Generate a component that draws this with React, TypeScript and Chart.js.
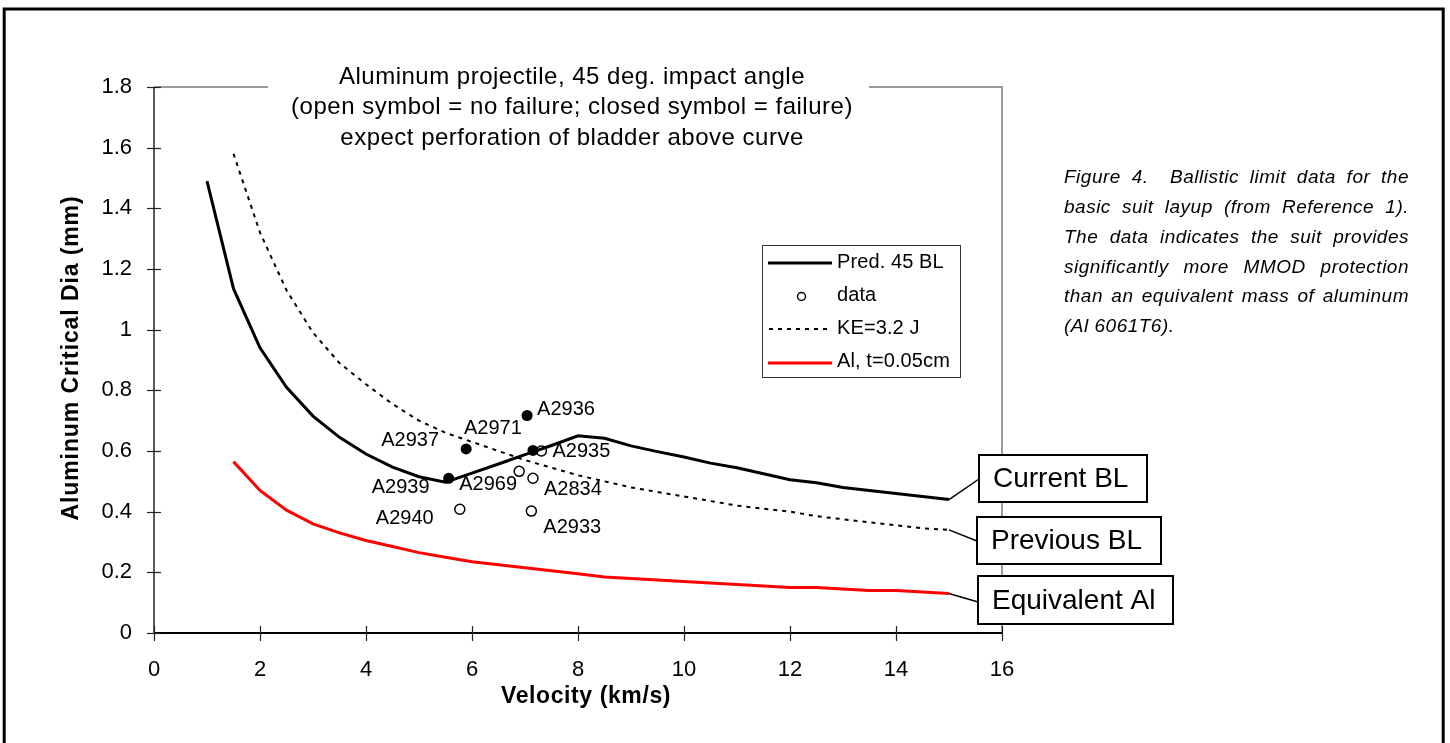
import React, { useEffect, useRef } from "react";
import { Chart, registerables } from "chart.js";

Chart.register(...registerables);

const FONT = '"Liberation Sans", Arial, Helvetica, sans-serif';

// ---------- data ----------
const blVelocity = [1, 1.5, 2, 2.5, 3, 3.5, 4, 4.5, 5, 5.5, 6, 6.5, 7, 7.5, 8, 8.5, 9, 9.5, 10, 10.5, 11, 11.5, 12, 12.5, 13, 13.5, 14, 14.5, 15];
const currentBL = [1.49, 1.135, 0.94, 0.81, 0.715, 0.645, 0.59, 0.547, 0.515, 0.497, 0.527, 0.557, 0.588, 0.618, 0.65, 0.642, 0.617, 0.598, 0.58, 0.56, 0.545, 0.525, 0.505, 0.495, 0.48, 0.47, 0.46, 0.45, 0.44];

const keVelocity = [1.5, 2, 2.5, 3, 3.5, 4, 4.5, 5, 5.5, 6, 6.5, 7, 7.5, 8, 8.5, 9, 9.5, 10, 10.5, 11, 11.5, 12, 12.5, 13, 13.5, 14, 14.5, 15];
const previousBL = [1.58, 1.32, 1.13, 0.99, 0.89, 0.82, 0.755, 0.70, 0.66, 0.63, 0.60, 0.57, 0.545, 0.52, 0.50, 0.48, 0.465, 0.45, 0.435, 0.42, 0.41, 0.40, 0.385, 0.375, 0.365, 0.355, 0.345, 0.34];

const alVelocity = [1.5, 2, 2.5, 3, 3.5, 4, 4.5, 5, 5.5, 6, 6.5, 7, 7.5, 8, 8.5, 9, 9.5, 10, 10.5, 11, 11.5, 12, 12.5, 13, 13.5, 14, 14.5, 15];
const equivalentAl = [0.565, 0.47, 0.405, 0.36, 0.33, 0.305, 0.285, 0.265, 0.25, 0.235, 0.225, 0.215, 0.205, 0.195, 0.185, 0.18, 0.175, 0.17, 0.165, 0.16, 0.155, 0.15, 0.15, 0.145, 0.14, 0.14, 0.135, 0.13];

const failVelocity = [5.56, 5.89, 7.04, 7.15];
const failDia = [0.51, 0.607, 0.717, 0.602];
const failLabels = ["A2939", "A2937", "A2936", "A2971"];

const passVelocity = [7.31, 6.89, 7.15, 5.77, 7.12];
const passDia = [0.6, 0.533, 0.51, 0.408, 0.402];
const passLabels = ["A2935", "A2969", "A2834", "A2940", "A2933"];

const seriesNames = ["Pred. 45 BL", "data", "KE=3.2 J", "Al, t=0.05cm"];
const titleLines = [
  "Aluminum projectile, 45 deg. impact angle",
  "(open symbol = no failure; closed symbol = failure)",
  "expect perforation of bladder above curve",
];
const xAxisTitle = "Velocity (km/s)";
const yAxisTitle = "Aluminum Critical Dia (mm)";
const calloutLabels = ["Current BL", "Previous BL", "Equivalent Al"];
const captionLines = [
  "Figure 4.  Ballistic limit data for the",
  "basic suit layup (from Reference 1).",
  "The data indicates the suit provides",
  "significantly more MMOD protection",
  "than an equivalent mass of aluminum",
  "(Al 6061T6).",
];

// ---------- layout constants (pixels) ----------
const failLabelOffsets = [[-77, 9], [-85, -8], [10, -6], [-69, -22]];
const passLabelOffsets = [[11, 0], [-60, 13], [11, 11], [-84, 9], [12, 16]];
const calloutBoxes = [
  [979, 455, 168, 47],
  [977, 517, 184, 47],
  [978, 576, 195, 48],
];

const toXY = (xs: number[], ys: number[]) => xs.map((x, i) => ({ x, y: ys[i] }));

const overlayPlugin = {
  id: "overlay",
  beforeDraw(chart: any) {
    const ctx = chart.ctx;
    ctx.save();
    ctx.fillStyle = "#fff";
    ctx.fillRect(0, 0, chart.width, chart.height);
    ctx.strokeStyle = "#000";
    ctx.lineWidth = 3;
    ctx.strokeRect(4.2, 9, 1439, 800);
    ctx.restore();
  },
  beforeDatasetsDraw(chart: any) {
    const ctx = chart.ctx;
    const { left, right, top, bottom } = chart.chartArea;
    const xs = chart.scales.x;
    const ys = chart.scales.y;
    ctx.save();
    ctx.strokeStyle = "#999";
    ctx.lineWidth = 2;
    ctx.beginPath();
    ctx.moveTo(left, top);
    ctx.lineTo(right, top);
    ctx.lineTo(right, bottom);
    ctx.stroke();
    ctx.strokeStyle = "#222";
    ctx.lineWidth = 1.5;
    ctx.beginPath();
    ctx.moveTo(left, top);
    ctx.lineTo(left, bottom);
    ctx.stroke();
    ctx.strokeStyle = "#000";
    ctx.lineWidth = 2;
    ctx.beginPath();
    ctx.moveTo(left, bottom);
    ctx.lineTo(right, bottom);
    ctx.stroke();
    ctx.lineWidth = 1.2;
    ctx.strokeStyle = "#222";
    ys.ticks.forEach((t: any) => {
      const py = Math.round(ys.getPixelForValue(t.value)) + 0.5;
      ctx.beginPath();
      ctx.moveTo(left - 7, py);
      ctx.lineTo(left + 7, py);
      ctx.stroke();
    });
    xs.ticks.forEach((t: any) => {
      const px = Math.round(xs.getPixelForValue(t.value)) + 0.5;
      ctx.beginPath();
      ctx.moveTo(px, bottom - 7);
      ctx.lineTo(px, bottom + 8);
      ctx.stroke();
    });
    ctx.restore();
  },
  afterDatasetsDraw(chart: any) {
    const ctx = chart.ctx;
    const xs = chart.scales.x;
    const ys = chart.scales.y;
    ctx.save();

    // point labels
    ctx.fillStyle = "#000";
    ctx.font = `20px ${FONT}`;
    (ctx as any).letterSpacing = "0px";
    ctx.textBaseline = "middle";
    ctx.textAlign = "left";
    failLabels.forEach((lab, i) => {
      const px = xs.getPixelForValue(failVelocity[i]);
      const py = ys.getPixelForValue(failDia[i]);
      ctx.fillText(lab, px + failLabelOffsets[i][0], py + failLabelOffsets[i][1]);
    });
    passLabels.forEach((lab, i) => {
      const px = xs.getPixelForValue(passVelocity[i]);
      const py = ys.getPixelForValue(passDia[i]);
      ctx.fillText(lab, px + passLabelOffsets[i][0], py + passLabelOffsets[i][1]);
    });

    // callouts with leader lines
    const ends = [
      [blVelocity[blVelocity.length - 1], currentBL[currentBL.length - 1]],
      [keVelocity[keVelocity.length - 1], previousBL[previousBL.length - 1]],
      [alVelocity[alVelocity.length - 1], equivalentAl[equivalentAl.length - 1]],
    ];
    const leaderTargets = [[979, 479], [977, 541], [978, 602]];
    ctx.strokeStyle = "#000";
    ctx.lineWidth = 1.5;
    ends.forEach((e, i) => {
      ctx.beginPath();
      ctx.moveTo(xs.getPixelForValue(e[0]), ys.getPixelForValue(e[1]));
      ctx.lineTo(leaderTargets[i][0], leaderTargets[i][1]);
      ctx.stroke();
    });
    ctx.font = `28px ${FONT}`;
    calloutBoxes.forEach((b, i) => {
      ctx.fillStyle = "#fff";
      ctx.fillRect(b[0], b[1], b[2], b[3]);
      ctx.strokeStyle = "#000";
      ctx.lineWidth = 2;
      ctx.strokeRect(b[0], b[1], b[2], b[3]);
      ctx.fillStyle = "#000";
      ctx.textAlign = "left";
      ctx.fillText(calloutLabels[i], b[0] + 14, b[1] + b[3] / 2 + 1);
    });

    // legend
    ctx.fillStyle = "#fff";
    ctx.fillRect(762, 245, 198, 133);
    ctx.strokeStyle = "#333";
    ctx.lineWidth = 1;
    ctx.strokeRect(762.5, 245.5, 198, 132);
    const rowsY = [262, 295, 328, 361];
    ctx.lineWidth = 3;
    ctx.strokeStyle = "#000";
    ctx.beginPath();
    ctx.moveTo(768, 263);
    ctx.lineTo(832, 263);
    ctx.stroke();
    ctx.lineWidth = 1.5;
    ctx.fillStyle = "#fff";
    ctx.beginPath();
    ctx.arc(801.5, 296.5, 4, 0, Math.PI * 2);
    ctx.fill();
    ctx.stroke();
    ctx.lineWidth = 2;
    ctx.setLineDash([4, 5]);
    ctx.beginPath();
    ctx.moveTo(769, 329);
    ctx.lineTo(832, 329);
    ctx.stroke();
    ctx.setLineDash([]);
    ctx.lineWidth = 3;
    ctx.strokeStyle = "#ff0000";
    ctx.beginPath();
    ctx.moveTo(768, 363);
    ctx.lineTo(832, 363);
    ctx.stroke();
    ctx.fillStyle = "#000";
    ctx.font = `20px ${FONT}`;
    (ctx as any).letterSpacing = "0.1px";
    ctx.textAlign = "left";
    seriesNames.forEach((n, i) => ctx.fillText(n, 837, rowsY[i]));

    // title box
    ctx.fillStyle = "#fff";
    ctx.fillRect(268, 55, 601, 96);
    ctx.fillStyle = "#000";
    ctx.font = `24px ${FONT}`;
    (ctx as any).letterSpacing = "0.5px";
    ctx.textAlign = "center";
    titleLines.forEach((t, i) => ctx.fillText(t, 572, 77 + i * 30.5));

    // axis titles
    ctx.font = `bold 23px ${FONT}`;
    (ctx as any).letterSpacing = "0.6px";
    ctx.fillText(xAxisTitle, 586, 697);
    ctx.save();
    ctx.translate(72, 358);
    ctx.rotate(-Math.PI / 2);
    (ctx as any).letterSpacing = "0.9px";
    ctx.fillText(yAxisTitle, 0, 0);
    ctx.restore();

    // caption (justified italic)
    ctx.font = `italic 19px ${FONT}`;
    (ctx as any).letterSpacing = "0.5px";
    ctx.textAlign = "left";
    ctx.fillStyle = "#000";
    const cx0 = 1064;
    const cw = 345;
    captionLines.forEach((line, i) => {
      const y = 178 + i * 29.8;
      if (i === captionLines.length - 1) {
        ctx.fillText(line, cx0, y);
        return;
      }
      const words = line.split(" ");
      const ww = words.reduce((s, w) => s + (w ? ctx.measureText(w).width : 0), 0);
      const gap = (cw - ww) / (words.length - 1);
      let x = cx0;
      words.forEach((w) => {
        if (w) ctx.fillText(w, x, y);
        x += (w ? ctx.measureText(w).width : 0) + gap;
      });
    });

    ctx.restore();
  },
};

export default function App() {
  const ref = useRef<HTMLCanvasElement | null>(null);
  useEffect(() => {
    if (!ref.current) return;
    const chart = new Chart(ref.current, {
      type: "scatter",
      data: {
        datasets: [
          {
            label: seriesNames[0],
            data: toXY(blVelocity, currentBL),
            showLine: true,
            borderColor: "#000",
            borderWidth: 3,
            pointRadius: 0,
            tension: 0,
          },
          {
            label: seriesNames[1],
            data: toXY(failVelocity, failDia),
            pointRadius: 5.5,
            backgroundColor: "#000",
            borderColor: "#000",
            borderWidth: 0,
          },
          {
            label: seriesNames[1] + " open",
            data: toXY(passVelocity, passDia),
            pointRadius: 5,
            backgroundColor: "#fff",
            borderColor: "#000",
            borderWidth: 1.5,
          },
          {
            label: seriesNames[2],
            data: toXY(keVelocity, previousBL),
            showLine: true,
            borderColor: "#000",
            borderWidth: 2,
            borderDash: [4, 5],
            pointRadius: 0,
            tension: 0,
          },
          {
            label: seriesNames[3],
            data: toXY(alVelocity, equivalentAl),
            showLine: true,
            borderColor: "#ff0000",
            borderWidth: 3,
            pointRadius: 0,
            tension: 0,
          },
        ],
      },
      options: {
        animation: false,
        responsive: false,
        maintainAspectRatio: false,
        devicePixelRatio: 1,
        layout: { padding: { left: 0, top: 87, right: 448, bottom: 50 } },
        plugins: { legend: { display: false }, tooltip: { enabled: false } },
        scales: {
          x: {
            type: "linear",
            min: 0,
            max: 16,
            ticks: {
              stepSize: 2,
              color: "#000",
              font: { family: FONT, size: 22 },
              padding: 24,
              maxRotation: 0,
            },
            grid: { display: false, drawTicks: false },
            border: { display: false },
            afterFit: (s: any) => {
              s.height = 60;
            },
          },
          y: {
            type: "linear",
            min: 0,
            max: 1.8,
            ticks: {
              stepSize: 0.2,
              color: "#000",
              font: { family: FONT, size: 22 },
              padding: 22,
              callback: (v: any) => String(Number(Number(v).toFixed(1))),
            },
            grid: { display: false, drawTicks: false },
            border: { display: false },
            afterFit: (s: any) => {
              s.width = 154;
            },
          },
        },
      },
      plugins: [overlayPlugin],
    } as any);
    return () => chart.destroy();
  }, []);
  return (
    <div style={{ position: "absolute", left: 0, top: 0, width: 1450, height: 743 }}>
      <canvas ref={ref} width={1450} height={743} style={{ width: 1450, height: 743, display: "block" }} />
    </div>
  );
}
